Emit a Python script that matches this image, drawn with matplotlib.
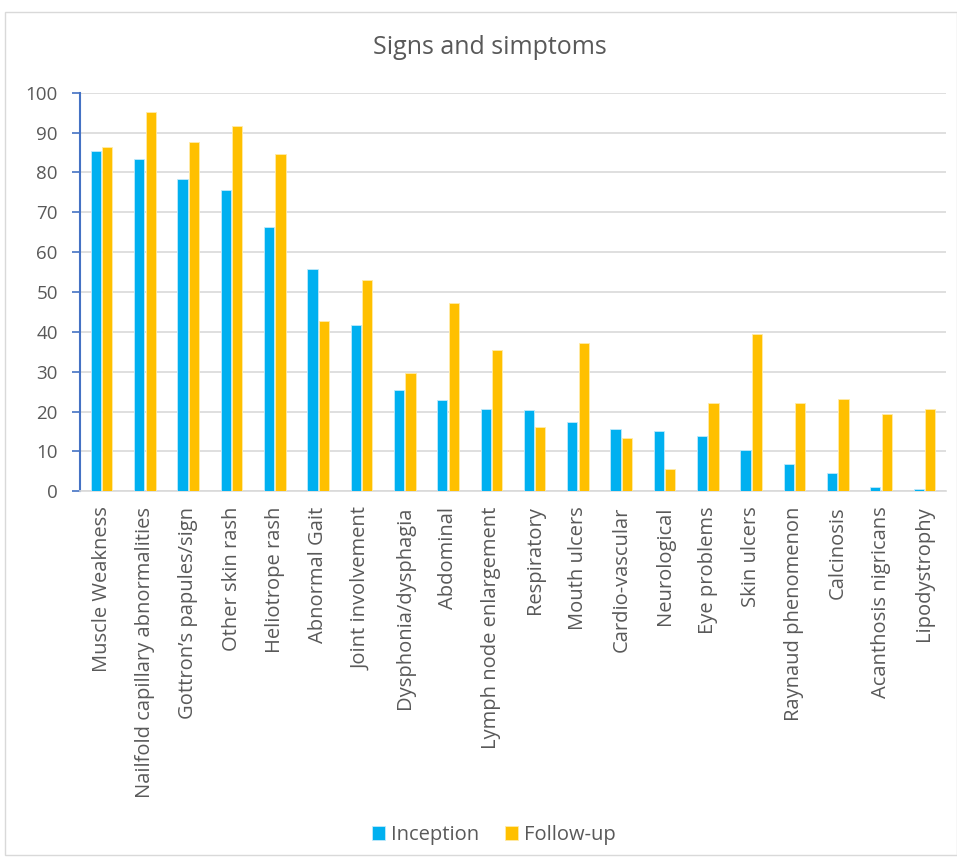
import matplotlib
matplotlib.use("Agg")
import matplotlib.pyplot as plt
import numpy as np
from matplotlib.patches import Rectangle

categories = ["Muscle Weakness", "Nailfold capillary abnormalities", "Gottron\u2019s papules/sign",
              "Other skin rash", "Heliotrope rash", "Abnormal Gait", "Joint involvement",
              "Dysphonia/dysphagia", "Abdominal", "Lymph node enlargement", "Respiratory",
              "Mouth ulcers", "Cardio-vascular", "Neurological", "Eye problems", "Skin ulcers",
              "Raynaud phenomenon", "Calcinosis", "Acanthosis nigricans", "Lipodystrophy"]
inception = [85.4, 83.3, 78.3, 75.5, 66.2, 55.7, 41.7, 25.4, 22.9, 20.6, 20.3, 17.3, 15.7,
             15.1, 13.9, 10.4, 6.9, 4.5, 1.1, 0.5]
follow_up = [86.5, 95.2, 87.6, 91.7, 84.7, 42.6, 53.0, 29.7, 47.2, 35.5, 16.2, 37.3, 13.3,
             5.7, 22.1, 39.5, 22.2, 23.2, 19.4, 20.7]
yticks = [0, 10, 20, 30, 40, 50, 60, 70, 80, 90, 100]

plt.rcParams['font.family'] = ['Open Sans', 'DejaVu Sans']
W, H = 957, 860
fig = plt.figure(figsize=(W/100, H/100), dpi=100)
fig.patches.append(Rectangle((5/W, 5/H), (W-5)/W, (H-17)/H, transform=fig.transFigure,
                             fill=False, edgecolor='#D9D9D9', linewidth=1))

left, right, top, bottom = 80, 946, 92.7, 491.3
ax = fig.add_axes([left/W, 1-bottom/H, (right-left)/W, (bottom-top)/H])
x = np.arange(len(categories))
bw = 0.235
gap = 0.03
ax.bar(x - bw/2 - gap/2, inception, bw, color='#00B0F0', edgecolor='#BFEAFB', linewidth=0.6,
       label='Inception', zorder=3)
ax.bar(x + bw/2 + gap/2, follow_up, bw, color='#FFC000', edgecolor='#FFEBA8', linewidth=0.6,
       label='Follow-up', zorder=3)
ax.set_xlim(-0.5, len(categories)-0.5)
ax.set_ylim(0, 100)
ax.set_yticks(yticks)
ax.set_yticklabels([str(v) for v in yticks], color='#595959', fontsize=13.5)
ax.yaxis.grid(True, color='#D9D9D9', linewidth=1.2, zorder=0)
ax.set_axisbelow(True)
ax.set_xticks(x)
ax.set_xticklabels(categories, rotation=90, color='#595959', fontsize=14.5)
ax.tick_params(axis='x', length=0, pad=11)
ax.tick_params(axis='y', length=6, color='#4472C4', width=1.2, pad=10)
for s in ['top', 'right']:
    ax.spines[s].set_visible(False)
ax.spines['left'].set_color('#4472C4')
ax.spines['left'].set_linewidth(1.5)
ax.spines['bottom'].set_color('#D9D9D9')
ax.spines['bottom'].set_linewidth(1.2)

fig.text(490/W, 1-48/H, "Signs and simptoms", ha='center', va='center', fontsize=18,
         color='#595959')
fig.legend(loc='center', bbox_to_anchor=(494/W, 1-835/H), ncol=2, frameon=False,
           fontsize=14.5, handlelength=0.65, handleheight=0.65, handletextpad=0.3,
           columnspacing=1.3, labelcolor='#595959')
fig.savefig("out.png", dpi=100)
